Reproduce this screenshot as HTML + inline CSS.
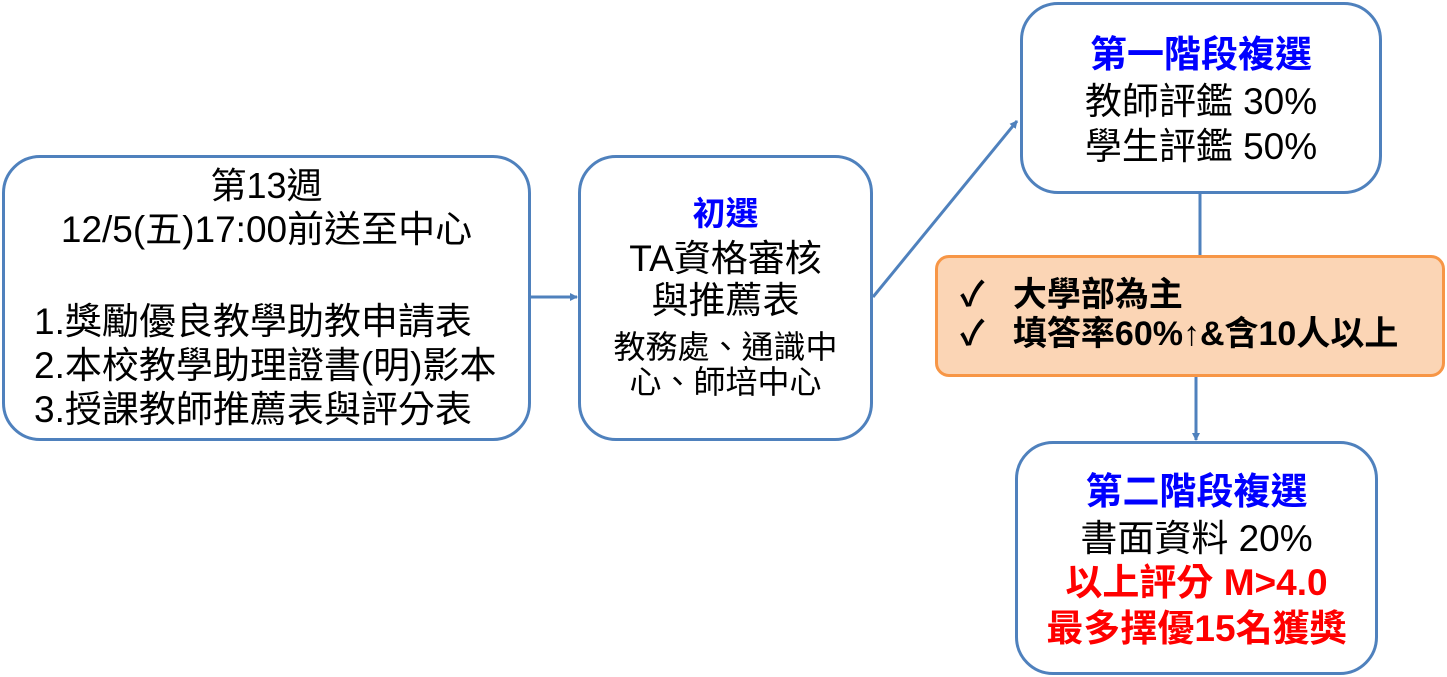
<!DOCTYPE html>
<html><head><meta charset="utf-8"><style>
body{margin:0;width:1447px;height:677px;background:#fff;position:relative;overflow:hidden;font-family:"Liberation Sans","Noto Sans CJK TC",sans-serif;color:#000}
.b{position:absolute;box-sizing:border-box;border:3px solid #4f81bd;border-radius:38px;background:#fff}
.t{position:absolute;left:0;right:0;text-align:center;white-space:nowrap}
.blue{color:#0000ff;font-weight:bold}
.red{color:#ff0000;font-weight:bold}
</style></head><body>
<svg style="position:absolute;left:0;top:0" width="1447" height="677">
<defs><marker id="a" markerWidth="8" markerHeight="8" refX="7" refY="4" orient="auto" markerUnits="userSpaceOnUse"><path d="M0,0 L8,4 L0,8 z" fill="#4f81bd"/></marker></defs>
<g stroke="#4f81bd" stroke-width="3" fill="none">
<line x1="530" y1="297" x2="577" y2="297" marker-end="url(#a)"/>
<line x1="873" y1="297" x2="1017" y2="121" marker-end="url(#a)"/>
<line x1="1200" y1="193" x2="1200" y2="255"/>
<line x1="1196" y1="376" x2="1196" y2="440" marker-end="url(#a)"/>
</g></svg>
<div class="b" style="left:2px;top:155px;width:529px;height:286px">
<div class="t" style="top:6px;font-size:36px;line-height:44px">第13週<br><span style="font-size:37px">12/5(五)17:00前送至中心</span></div>
<div style="position:absolute;left:29px;top:142px;font-size:37px;line-height:44px;white-space:nowrap">1.獎勵優良教學助教申請表<br>2.本校教學助理證書(明)影本<br>3.授課教師推薦表與評分表</div>
</div>
<div class="b" style="left:578px;top:155px;width:295px;height:286px">
<div class="t blue" style="top:36px;font-size:33px;line-height:40px">初選</div>
<div class="t" style="top:80px;font-size:37px;line-height:42px">TA資格審核<br>與推薦表</div>
<div class="t" style="top:172px;font-size:32px;line-height:35px">教務處、通識中<br>心、師培中心</div>
</div>
<div class="b" style="left:1020px;top:2px;width:362px;height:192px">
<div class="t blue" style="top:28px;font-size:37px;line-height:44px">第一階段複選</div>
<div class="t" style="top:74px;font-size:37px;line-height:45px">教師評鑑 30%<br>學生評鑑 50%</div>
</div>
<div style="position:absolute;left:935px;top:255px;width:510px;height:122px;box-sizing:border-box;border:3px solid #f79646;border-radius:14px;background:#fbd5b5">
<div style="position:absolute;left:22px;top:18px;font-size:34px;line-height:39px;font-weight:bold;white-space:nowrap">✓&nbsp;&nbsp;&nbsp;大學部為主<br>✓&nbsp;&nbsp;&nbsp;填答率60%↑&amp;含10人以上</div>
</div>
<div class="b" style="left:1015px;top:441px;width:363px;height:234px">
<div class="t blue" style="top:26px;font-size:37px;line-height:44px">第二階段複選</div>
<div class="t" style="top:72px;font-size:37px;line-height:46px">書面資料 20%</div>
<div class="t red" style="top:116px;font-size:37px;line-height:46px">以上評分 M&gt;4.0<br>最多擇優15名獲獎</div>
</div>
</body></html>
